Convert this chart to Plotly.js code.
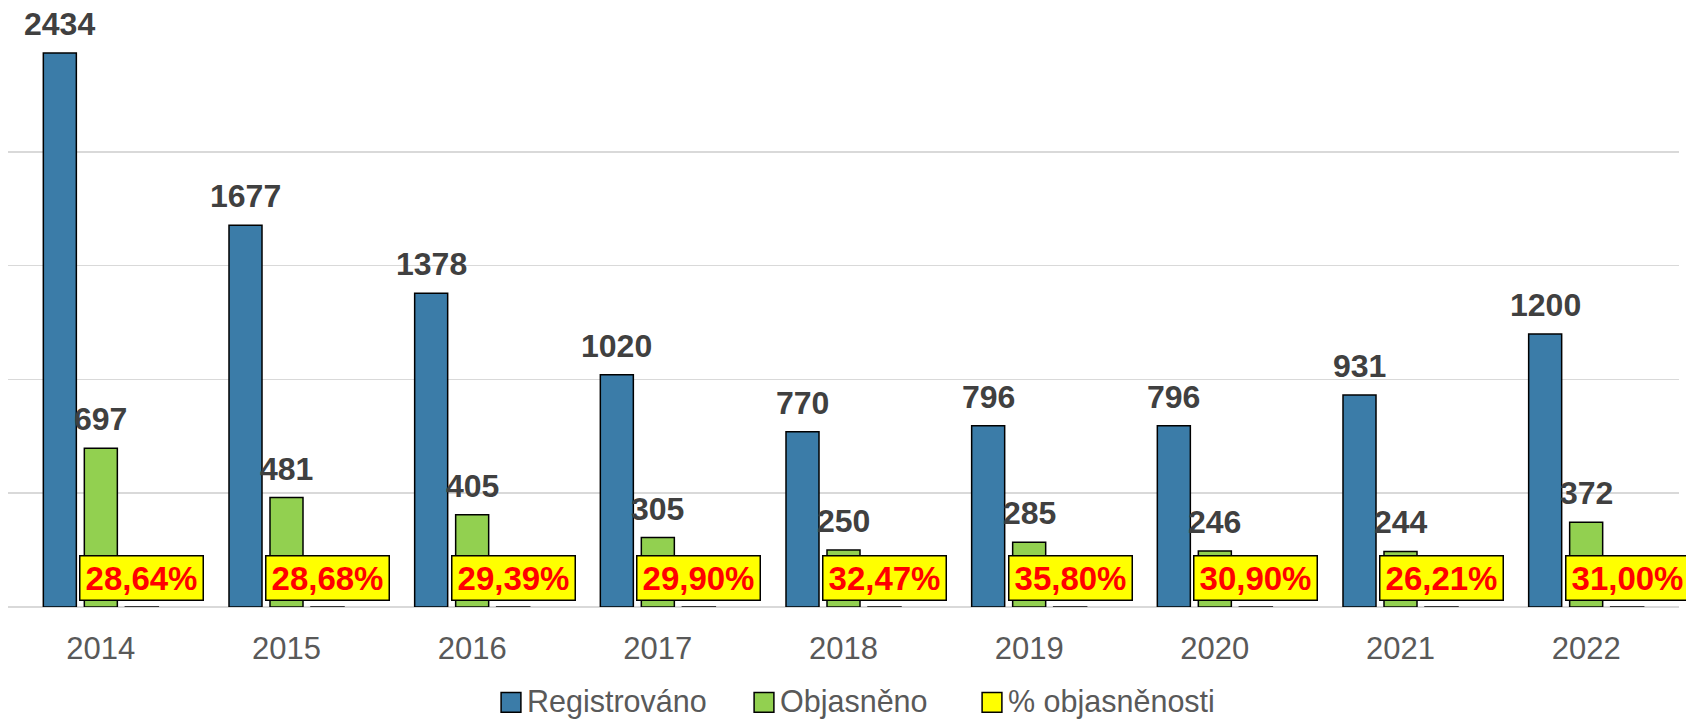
<!DOCTYPE html>
<html>
<head>
<meta charset="utf-8">
<script src="https://cdn.plot.ly/plotly-3.0.1.min.js"></script>
<style>
html,body{margin:0;padding:0;background:#fff;}
#chart{width:1686px;height:719px;}
</style>
</head>
<body>
<div id="chart"></div>
<script>
const years = ['2014','2015','2016','2017','2018','2019','2020','2021','2022'];
const registered = [2434,1677,1378,1020,770,796,796,931,1200];
const cleared = [697,481,405,305,250,285,246,244,372];
const clearedShare = [0.2864,0.2868,0.2939,0.2990,0.3247,0.3580,0.3090,0.2621,0.3100];
const seriesNames = ['Registrováno','Objasněno','% objasněnosti'];

const FONT = 'Liberation Sans, Arial, sans-serif';
const barLine = {color:'#000000', width:1.5};

const traces = [
  {type:'bar', name:seriesNames[0], x:years, y:registered, legend:'legend',
   marker:{color:'#3b7ca8', line:barLine}, hoverinfo:'skip'},
  {type:'bar', name:seriesNames[1], x:years, y:cleared, legend:'legend2',
   marker:{color:'#92d050', line:barLine}, hoverinfo:'skip'},
  {type:'bar', name:seriesNames[2], x:years, y:clearedShare, legend:'legend3',
   marker:{color:'#ffff00', line:barLine}, hoverinfo:'skip'}
];

const SLOT = 41;
const annotations = [];
years.forEach((yr,i)=>{
  annotations.push({x:i, y:registered[i], xref:'x', yref:'y', text:String(registered[i]),
    showarrow:false, xshift:-SLOT, yanchor:'bottom', yshift:9,
    font:{family:FONT, size:32, color:'#404040', weight:'bold'}});
  annotations.push({x:i, y:cleared[i], xref:'x', yref:'y', text:String(cleared[i]),
    showarrow:false, xshift:0, yanchor:'bottom', yshift:9,
    font:{family:FONT, size:32, color:'#404040', weight:'bold'}});
  annotations.push({x:i, y:0, xref:'x', yref:'y',
    text:(clearedShare[i]*100).toFixed(2).replace('.',',')+'%',
    showarrow:false, xshift:SLOT, yanchor:'bottom', yshift:6,
    width:116, height:37, align:'center', valign:'middle',
    bgcolor:'#ffff00', bordercolor:'#000000', borderwidth:1.5, borderpad:3,
    font:{family:FONT, size:33, color:'#ff0000', weight:'bold'}});
});

function legendAt(px){
  return {orientation:'h', xref:'container', yref:'container',
    x:px/1686, xanchor:'left', y:18.5/719, yanchor:'middle',
    bgcolor:'rgba(0,0,0,0)', borderwidth:0,
    font:{family:FONT, size:30.5, color:'#595959'}};
}

const layout = {
  width:1686, height:719,
  margin:{l:8, r:7, t:38, b:112, autoexpand:false},
  paper_bgcolor:'#ffffff', plot_bgcolor:'#ffffff',
  barmode:'group', bargap:0.3375, bargroupgap:0.195,
  font:{family:FONT, color:'#595959'},
  showlegend:true,
  legend:legendAt(487),
  legend2:legendAt(740),
  legend3:legendAt(968),
  xaxis:{type:'category', range:[-0.5, 8.5], autorange:false, showgrid:false, ticks:'', showline:false,
    ticklabelstandoff:20,
    tickfont:{family:FONT, size:31, color:'#595959'}, fixedrange:true},
  yaxis:{range:[0,2500], autorange:false, dtick:500, tick0:0, showticklabels:false, ticks:'',
    showgrid:true, gridcolor:'#d9d9d9', gridwidth:1.5, zeroline:true,
    zerolinecolor:'#d9d9d9', zerolinewidth:1.5, showline:false, fixedrange:true},
  annotations:annotations
};

Plotly.newPlot('chart', traces, layout, {staticPlot:true, displayModeBar:false}).then(()=>{
  document.querySelectorAll('.legendpoints path').forEach(p=>{
    const t = p.getAttribute('transform') || '';
    p.setAttribute('transform', t + ' translate(4,2) scale(1.65)');
    p.setAttribute('vector-effect','non-scaling-stroke');
  });
});
</script>
</body>
</html>
